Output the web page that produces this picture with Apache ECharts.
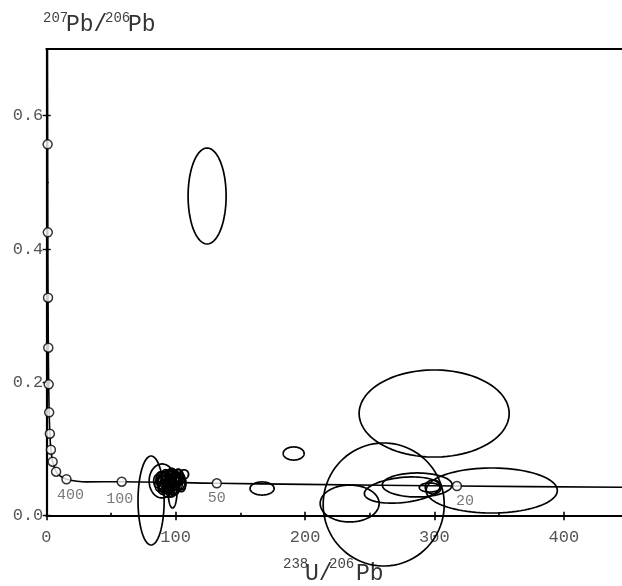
<!DOCTYPE html>
<html><head><meta charset="utf-8">
<script src="https://cdn.jsdelivr.net/npm/echarts@6/dist/echarts.min.js"></script>
<style>html,body{margin:0;padding:0;background:#fff}#c{width:622px;height:586px}</style>
</head><body><div id="c"></div>
<script>
// ---- data ----
const xTicks = [0, 100, 200, 300, 400];
const xMinorTicks = [50, 150, 250, 350];
const yTicks = [0, 0.2, 0.4, 0.6];
const yMinorTicks = [0.1, 0.3, 0.5];

// concordia curve (238U/206Pb, 207Pb/206Pb)
const curveX = [0.85, 1.02, 1.16, 1.34, 1.56, 1.84, 2.22, 2.75, 3.55, 4.89, 7.57, 10.3, 15.6, 31, 58, 131, 200, 317, 445];
const curveY = [0.700, 0.557, 0.425, 0.327, 0.252, 0.197, 0.155, 0.123, 0.099, 0.081, 0.066, 0.060, 0.0547, 0.0508, 0.0510, 0.0487, 0.0470, 0.0445, 0.0427];

// age markers on the concordia
const markerAge = ['4400','4000','3600','3200','2800','2400','2000','1600','1200','800','400','100','50','20'];
const markerX = [1.02, 1.16, 1.34, 1.56, 1.84, 2.22, 2.75, 3.55, 4.89, 7.57, 15.6, 58.3, 131.8, 317.4];
const markerY = [0.557, 0.425, 0.327, 0.252, 0.197, 0.155, 0.123, 0.099, 0.081, 0.066, 0.0547, 0.051, 0.0486, 0.0445];
const labelAges = ['400', '100', '50', '20'];

// error ellipses: centre, semi-axes (data units), tilt (deg)
const ellCx = [124.3, 299.8, 260.8, 234.5, 275.1, 286.7, 296.4, 299.1, 344.3, 191.2, 166.8, 81.0, 89.5, 97.6,
  87.5, 89.5, 91, 92.5, 93.5, 94.5, 95.5, 96.5, 97.5, 98.5, 99.5, 100.5, 101.5, 102.5, 103.5, 104.5, 106.5, 92, 90,
  86, 88.5, 90.5, 93, 95, 96, 98, 99, 101, 103, 105, 94, 97, 100, 91.5, 96.5, 102];
const ellCy = [0.4795, 0.1533, 0.0168, 0.0183, 0.0385, 0.0461, 0.0423, 0.043, 0.0378, 0.0933, 0.0408, 0.0228, 0.0521, 0.0385,
  0.047, 0.053, 0.045, 0.056, 0.049, 0.041, 0.053, 0.046, 0.059, 0.050, 0.043, 0.055, 0.047, 0.060, 0.051, 0.044, 0.062, 0.060, 0.040,
  0.052, 0.058, 0.049, 0.044, 0.061, 0.050, 0.039, 0.056, 0.052, 0.056, 0.049, 0.036, 0.064, 0.041, 0.050, 0.043, 0.058];
const ellRx = [14.7, 58, 46.8, 22.8, 29.4, 27, 8.1, 6.2, 50.7, 8.1, 9.3, 10.1, 10, 3.5,
  3.5, 4.5, 4, 3.5, 5, 4, 3.5, 4.5, 3, 4, 3.5, 4, 3.5, 3, 3.5, 3, 3.5, 3, 3.5,
  3, 3.5, 4, 3, 3.5, 3, 4, 3.5, 3, 4, 3, 4.5, 3.5, 3, 5.5, 5, 4];
const ellRy = [0.072, 0.0653, 0.0923, 0.0277, 0.0188, 0.018, 0.0068, 0.0105, 0.0338, 0.0098, 0.0098, 0.0668, 0.0255, 0.027,
  0.011, 0.013, 0.010, 0.011, 0.012, 0.009, 0.014, 0.011, 0.010, 0.012, 0.009, 0.011, 0.010, 0.009, 0.012, 0.008, 0.0068, 0.009, 0.008,
  0.010, 0.008, 0.012, 0.009, 0.008, 0.013, 0.008, 0.010, 0.011, 0.009, 0.010, 0.008, 0.007, 0.009, 0.016, 0.015, 0.012];
const ellRot = ellCx.map((c, i) => (i === 4 ? -6 : 0));

// ---- chart ----
const FONT = 'Liberation Mono';
const chart = echarts.init(document.getElementById('c'), null, {renderer: 'canvas'});

const ellData = ellCx.map((c, i) => [c, ellCy[i], ellRx[i], ellRy[i], ellRot[i]]);
const curveData = curveX.map((x, i) => [x, curveY[i]]);
const labelOffset = {'400': [4, 16], '100': [-2, 17], '50': [0, 15], '20': [8, 15]};
const markerData = markerX.map((x, i) => {
  const age = markerAge[i];
  const show = labelAges.indexOf(age) >= 0;
  return {
    value: [x, markerY[i]], name: age,
    label: {show: show, formatter: age, position: 'inside', offset: labelOffset[age] || [0, 0],
      fontFamily: FONT, fontSize: 15, color: '#555'}
  };
});

const xBase = {type: 'value', min: 0, max: 445, splitLine: {show: false}};
const yBase = {type: 'value', min: 0, max: 0.7, splitLine: {show: false}};

const option = {
  animation: false,
  backgroundColor: '#fff',
  grid: {left: 46.3, top: 49, right: 0, bottom: 70.3, containLabel: false},
  xAxis: [
    Object.assign({}, xBase, {position: 'bottom',
      axisLine: {show: true, onZero: false, lineStyle: {color: '#000', width: 1.8}},
      axisTick: {show: true, inside: true, length: 4, customValues: xTicks, lineStyle: {color: '#000', width: 1.6}},
      axisLabel: {show: true, customValues: xTicks, margin: 13, fontFamily: FONT, fontSize: 17, color: '#555'}}),
    Object.assign({}, xBase, {position: 'bottom',
      axisLine: {show: false, onZero: false},
      axisTick: {show: true, inside: false, length: 4.5, customValues: xTicks, lineStyle: {color: '#000', width: 1.6}},
      axisLabel: {show: false}}),
    Object.assign({}, xBase, {position: 'bottom',
      axisLine: {show: false, onZero: false},
      axisTick: {show: true, inside: true, length: 3, customValues: xMinorTicks, lineStyle: {color: '#000', width: 1.6}},
      axisLabel: {show: false}}),
    Object.assign({}, xBase, {position: 'top',
      axisLine: {show: true, onZero: false, lineStyle: {color: '#000', width: 1.8}},
      axisTick: {show: false}, axisLabel: {show: false}})
  ],
  yAxis: [
    Object.assign({}, yBase, {position: 'left',
      axisLine: {show: true, onZero: false, lineStyle: {color: '#000', width: 2.2}},
      axisTick: {show: true, inside: true, length: 4.4, customValues: yTicks, lineStyle: {color: '#000', width: 1.4}},
      axisLabel: {show: true, customValues: yTicks, margin: 3, fontFamily: FONT, fontSize: 17, color: '#555',
        formatter: v => v.toFixed(1)}}),
    Object.assign({}, yBase, {position: 'left',
      axisLine: {show: false, onZero: false},
      axisTick: {show: true, inside: false, length: 3.6, customValues: yTicks, lineStyle: {color: '#000', width: 1.4}},
      axisLabel: {show: false}}),
    Object.assign({}, yBase, {position: 'left',
      axisLine: {show: false, onZero: false},
      axisTick: {show: true, inside: true, length: 2.5, customValues: yMinorTicks, lineStyle: {color: '#000', width: 1.4}},
      axisLabel: {show: false}})
  ],
  series: [
    {
      type: 'line', data: curveData, xAxisIndex: 0, yAxisIndex: 0,
      showSymbol: false, symbol: 'none', smooth: 0.3,
      lineStyle: {color: '#000', width: 1.6}, z: 3
    },
    {
      type: 'custom', data: ellData, xAxisIndex: 0, yAxisIndex: 0, clip: false, z: 4,
      encode: {x: 0, y: 1},
      renderItem: function (params, api) {
        const c = api.coord([api.value(0), api.value(1)]);
        const s = api.size([api.value(2), api.value(3)]);
        const rot = api.value(4) * Math.PI / 180;
        const pts = [];
        for (let k = 0; k < 90; k++) {
          const t = k / 90 * Math.PI * 2;
          const ex = s[0] * Math.cos(t), ey = s[1] * Math.sin(t);
          pts.push([c[0] + ex * Math.cos(rot) - ey * Math.sin(rot), c[1] + ex * Math.sin(rot) + ey * Math.cos(rot)]);
        }
        return {type: 'polygon', shape: {points: pts}, style: {fill: 'none', stroke: '#000', lineWidth: 1.7}};
      }
    },
    {
      type: 'scatter', data: markerData, xAxisIndex: 0, yAxisIndex: 0,
      symbol: 'circle', symbolSize: 9, z: 5,
      itemStyle: {color: '#fff', borderColor: '#000', borderWidth: 1.5}
    }
  ],
  graphic: [
    {type: 'text', left: 43, top: 11, style: {text: '207', font: '14px "Liberation Mono"', fill: '#444'}},
    {type: 'text', left: 66, top: 13, style: {text: 'Pb/', font: '23px "Liberation Mono"', fill: '#333'}},
    {type: 'text', left: 105, top: 11, style: {text: '206', font: '14px "Liberation Mono"', fill: '#444'}},
    {type: 'text', left: 128, top: 13, style: {text: 'Pb', font: '23px "Liberation Mono"', fill: '#333'}},

    {type: 'text', left: 283, top: 557, style: {text: '238', font: '14px "Liberation Mono"', fill: '#444'}},
    {type: 'text', left: 305, top: 562, style: {text: 'U/', font: '23px "Liberation Mono"', fill: '#333'}},
    {type: 'text', left: 329, top: 557, style: {text: '206', font: '14px "Liberation Mono"', fill: '#444'}},
    {type: 'text', left: 356, top: 562, style: {text: 'Pb', font: '23px "Liberation Mono"', fill: '#333'}}
  ]
};
chart.setOption(option);
</script>
</body></html>
